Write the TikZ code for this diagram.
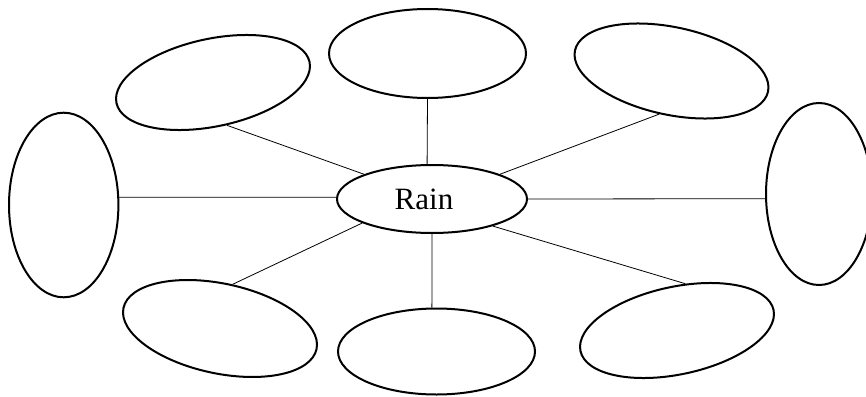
\documentclass[tikz,border=0pt]{standalone}
\usepackage{fontspec}
\setmainfont{Liberation Serif}
\usetikzlibrary{shapes.geometric}
\begin{document}
\begin{tikzpicture}[x=1pt,y=-1pt,
  bubble/.style={ellipse, draw, line width=2pt, inner sep=0pt, fill=none},
  link/.style={draw, line width=0.8pt}]
\useasboundingbox (0,0) rectangle (866,396);
% outer bubbles
\node[bubble, minimum width=197pt, minimum height=89pt] (T) at (427.5,53.5) {};
\node[bubble, rotate=12, minimum width=197.4pt, minimum height=87.6pt] (TL) at (213,82.5) {};
\node[bubble, rotate=-12, minimum width=197.4pt, minimum height=87.6pt] (TR) at (671.5,71) {};
\node[bubble, minimum width=109.4pt, minimum height=184.6pt] (L) at (63.7,205) {};
\node[bubble, minimum width=106pt, minimum height=182pt] (R) at (819,194) {};
\node[bubble, rotate=-12, minimum width=197.4pt, minimum height=89.8pt] (BL) at (220,328.5) {};
\node[bubble, rotate=12, minimum width=197.4pt, minimum height=87.6pt] (BR) at (677,330.5) {};
\node[bubble, minimum width=197pt, minimum height=86pt] (B) at (436.5,351.5) {};
% centre
\node[bubble, minimum width=190pt, minimum height=68pt,
  font=\fontsize{31}{31}\selectfont] (C) at (432,199) {Rain\hspace*{16pt}};
% connectors
\draw[link] (C.98) -- (T.270);
\draw[link] (C.160) -- (TL.276);
\draw[link] (C.20.7) -- (TR.266);
\draw[link] (C.179) -- (L.8);
\draw[link] (C.0) -- (R.185.7);
\draw[link] (C.199) -- (BL.86);
\draw[link] (C.336) -- (BR.68);
\draw[link] (C.270) -- (B.96);
\end{tikzpicture}
\end{document}
